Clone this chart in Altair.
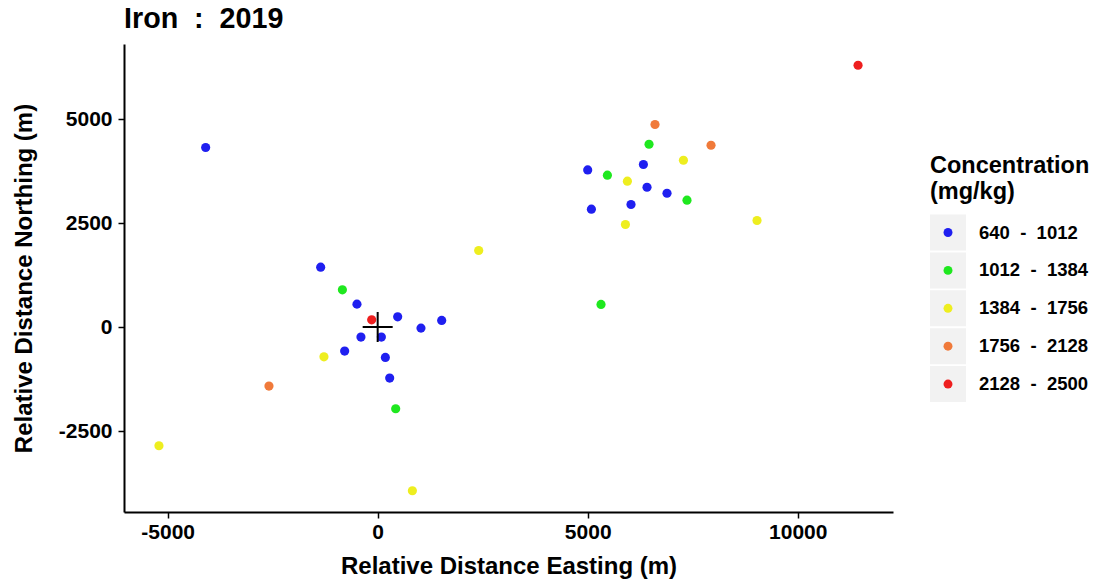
import altair as alt
import pandas as pd

# Sample positions relative to the reference point (metres)
east = [-1357, -840, -493, -143, 476, 1524, 1031, -398, 88, -786, -1279, 183, 286, 429,
        6602, 6460, 7936, 7279, 6326, 5000, 5469, 5945, 6412, 6888, 7364, 6031, 5088, 5898, 9031,
        -4095, 11436, 2405, 5317, -2588, -5207, 826]
north = [1442, 897, 553, 175, 248, 161, -24, -240, -240, -577, -714, -728, -1226, -1964,
         4873, 4399, 4375, 4014, 3911, 3781, 3654, 3510, 3365, 3221, 3053, 2950, 2837, 2469, 2565,
         4320, 6298, 1843, 546, -1418, -2853, -3935]
# Concentration class of each sample (index into band_labels)
band_index = [0, 1, 0, 4, 0, 0, 0, 0, 0, 0, 2, 0, 0, 1,
              3, 1, 3, 2, 0, 0, 1, 2, 0, 0, 1, 0, 0, 2, 2,
              0, 4, 2, 1, 3, 2, 2]

NB = "\u00a0"
band_labels = [f"640{NB*2}-{NB*2}1012", f"1012{NB*2}-{NB*2}1384", f"1384{NB*2}-{NB*2}1756",
               f"1756{NB*2}-{NB*2}2128", f"2128{NB*2}-{NB*2}2500"]
band_colors = ["#1f1ff0", "#1fe81f", "#eeee1f", "#f07a3a", "#ee1f1f"]
x_ticks = [-5000, 0, 5000, 10000]
y_ticks = [-2500, 0, 2500, 5000]
chart_title = f"Iron{NB*2}:{NB*2}2019"

FONT = "Liberation Sans"

samples = pd.DataFrame({"east": east, "north": north,
                        "band": [band_labels[k] for k in band_index]})
origin = pd.DataFrame({"east": [0], "north": [0]})
legend_rows = pd.DataFrame({"idx": list(range(len(band_labels))), "band": band_labels})
one_row = pd.DataFrame({"t": [0]})

xs = alt.Scale(domain=[-6039, 12268], nice=False, zero=False)
ys = alt.Scale(domain=[-4447, 6810], nice=False, zero=False)
colors = alt.Scale(domain=band_labels, range=band_colors)

plain_label = "'' + datum.value"
x_axis = alt.Axis(values=x_ticks, title="Relative Distance Easting (m)", labelExpr=plain_label,
                  tickSize=6, labelPadding=3, titlePadding=12)
y_axis = alt.Axis(values=y_ticks, title="Relative Distance Northing (m)", labelExpr=plain_label,
                  tickSize=6, labelPadding=6, titlePadding=22)

points = alt.Chart(samples).mark_circle(size=84, opacity=1).encode(
    x=alt.X("east:Q", scale=xs, axis=x_axis),
    y=alt.Y("north:Q", scale=ys, axis=y_axis),
    color=alt.Color("band:N", scale=colors, legend=None),
)

cross = alt.Chart(origin).mark_point(
    shape="M-1,0L1,0M0,-1L0,1", size=900, filled=False,
    stroke="black", strokeWidth=2, opacity=1,
).encode(x=alt.X("east:Q", scale=xs), y=alt.Y("north:Q", scale=ys))

main = alt.layer(points, cross)

# Hand-built legend to the right of the plot
leg_y = alt.Y("idx:Q", scale=alt.Scale(domain=[-4.974, 7.375], reverse=True, nice=False, zero=False),
              axis=None)
key_bg = alt.Chart(legend_rows).mark_square(size=1296, color="#f2f2f2", opacity=1).encode(
    x=alt.value(824), y=leg_y)
key_dot = alt.Chart(legend_rows).mark_circle(size=80, opacity=1).encode(
    x=alt.value(824), y=leg_y, color=alt.Color("band:N", scale=colors, legend=None))
key_text = alt.Chart(legend_rows).mark_text(
    align="left", baseline="middle", font=FONT, fontWeight="bold", fontSize=18.5, color="black"
).encode(x=alt.value(855), y=leg_y, text="band:N")
legend = alt.layer(key_bg, key_dot, key_text)

leg_title = alt.Chart(one_row).mark_text(
    text=["Concentration", "(mg/kg)"], align="left", baseline="alphabetic", lineHeight=26,
    font=FONT, fontWeight="bold", fontSize=23.5, color="black",
).encode(x=alt.value(806), y=alt.value(129))

# Chart heading, placed just above the plot's top-left corner
heading = alt.Chart(one_row).mark_text(
    text=chart_title, align="left", baseline="alphabetic",
    font=FONT, fontWeight="bold", fontSize=28.7, color="black",
).encode(x=alt.value(0), y=alt.value(-16))

chart = alt.layer(main, legend, leg_title, heading).resolve_scale(y="independent").properties(
    width=769, height=468,
    autosize=alt.AutoSizeParams(type="none"),
    padding={"left": 124, "top": 44, "right": 205, "bottom": 67},
).configure_view(stroke=None).configure_axis(
    grid=False, domainColor="black", domainWidth=2, tickColor="black", tickWidth=1.5,
    labelFont=FONT, labelFontWeight="bold", labelFontSize=21, labelColor="black",
    titleFont=FONT, titleFontWeight="bold", titleFontSize=24, titleColor="black",
)

chart.save("out.html", embed_options={"renderer": "svg", "actions": False})
